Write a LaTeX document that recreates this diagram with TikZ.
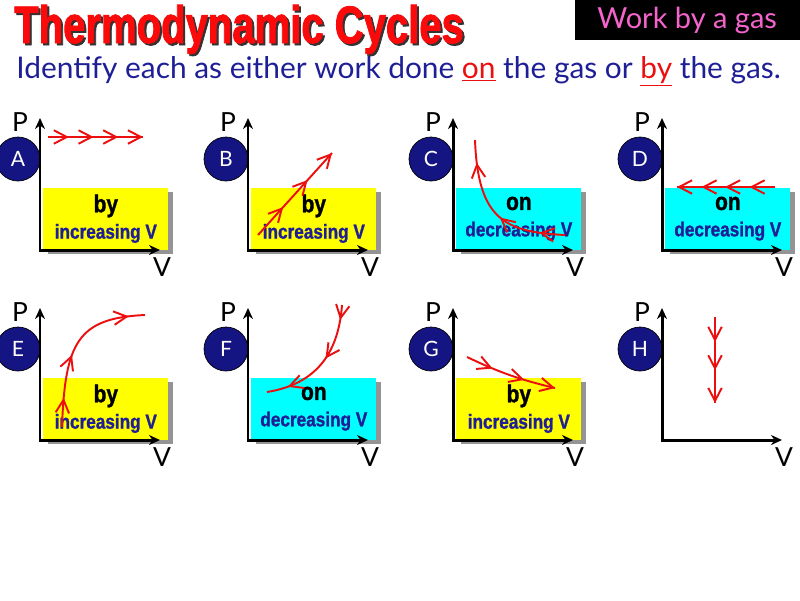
\documentclass[tikz,border=0pt]{standalone}
\usepackage{fontspec}
\setmainfont{Lato}
\newfontfamily\titlefont[FakeStretch=0.76,BoldFeatures={FakeBold=1.5}]{Liberation Sans}
\newfontfamily\condfont[FakeStretch=0.85,BoldFeatures={FakeBold=1.2}]{Liberation Sans}
\usetikzlibrary{positioning, arrows.meta, decorations.markings, shadows}
\definecolor{titlered}{RGB}{250,10,10}
\definecolor{inkblue}{RGB}{30,30,150}
\definecolor{tagblue}{RGB}{20,20,130}
\definecolor{boxyellow}{RGB}{255,255,0}
\definecolor{boxcyan}{RGB}{0,255,255}
\definecolor{flowred}{RGB}{235,15,15}
\definecolor{gaspink}{RGB}{245,100,205}
\tikzset{
  headline/.style={anchor=base west,font={\titlefont\bfseries\fontsize{30}{30}\selectfont}},
  axis/.style={line width=1.7pt,{Stealth[length=2.2mm,width=2mm]}-{Stealth[length=2.2mm,width=2mm]}},
  axlabel/.style={font=\fontsize{15}{15}\selectfont,inner sep=0pt},
  tag/.style={circle,draw=black,fill=tagblue,text=white,minimum size=8.8mm,inner sep=0pt,
    font=\fontsize{12}{12}\selectfont},
  workbox/.style={anchor=south west,minimum width=2.5cm,minimum height=1.24cm,inner sep=0pt,
    align=center,drop shadow={shadow xshift=2.5pt,shadow yshift=-2.5pt,fill=black!70,opacity=.6}},
  flow/.style={flowred,line width=1.1pt},
  chev/.style={postaction={decorate,decoration={markings,mark=at position #1 with
    {\arrow{Straight Barb[length=2.6mm,width=2.7mm,line width=1.1pt]}}}}},
}
\newcommand{\bigword}[1]{{\condfont\bfseries\fontsize{14}{14}\selectfont #1}}
\newcommand{\smallword}[1]{{\condfont\bfseries\fontsize{11.5}{11.5}\selectfont\color{inkblue}#1}}

\begin{document}
\begin{tikzpicture}[x=0.02cm,y=-0.02cm]
  \useasboundingbox (0,0) rectangle (800,600);
  % heading
  \node[headline,text=black!80] (titleshade) at (10,45) {Thermodynamic Cycles};
  \node[headline,text=titlered] (title) at (8,43) {Thermodynamic Cycles};
  \node[fill=black,text=gaspink,anchor=north east,minimum width=4.5cm,minimum height=0.8cm,
    font=\fontsize{16.5}{16.5}\selectfont] (badge) at (800,0) {Work by a gas};
  \node[anchor=base west,text=inkblue,inner sep=0pt,font=\fontsize{17}{17}\selectfont] (prompt) at (16,78)
    {Identify each as either work done \textcolor{flowred}{\underline{on}} the gas or
     \textcolor{flowred}{\underline{by}} the gas.};
  % answer boxes
  \foreach \ox/\oy/\l/\fillc/\who/\how in {40/250/A/boxyellow/by/increasing,
      248/250/B/boxyellow/by/increasing, 453/250/C/boxcyan/on/decreasing,
      662/250/D/boxcyan/on/decreasing, 40/440/E/boxyellow/by/increasing,
      248/440/F/boxcyan/on/decreasing, 453/440/G/boxyellow/by/increasing}
    \node[workbox,fill=\fillc] (box\l) at (\ox+3,\oy) {\bigword{\who}\\[3pt]\smallword{\how\ V}};
  % axes and tags
  \foreach \ox/\oy/\l in {40/250/A,248/250/B,453/250/C,662/250/D,
      40/440/E,248/440/F,453/440/G,662/440/H}{
    \node[tag] (tag\l) at (\ox-22,\oy-91) {\l};
    \draw[axis] (\ox,\oy-132) -- (\ox,\oy) -- (\ox+120,\oy);
    \node[axlabel] (p\l) at (\ox-20,\oy-128) {P};
    \node[axlabel] (v\l) at (\ox+122,\oy+17) {V};
  }
  % processes
  \coordinate (a0) at (48,137);   \coordinate (a1) at (143,137);
  \coordinate (b0) at (258,235);  \coordinate (b1) at (332,153);
  \coordinate (c0) at (565,235);  \coordinate (c1) at (475,140);
  \coordinate (d0) at (775,187);  \coordinate (d1) at (677,187);
  \coordinate (e0) at (62,427);   \coordinate (e1) at (145,315);
  \coordinate (f0) at (342,305);  \coordinate (f1) at (267,392);
  \coordinate (g0) at (467,357);  \coordinate (g1) at (555,388);
  \coordinate (h0) at (715,317);  \coordinate (h1) at (715,403);
  \draw[flow,chev=0.22,chev=0.48,chev=0.74,chev=1] (a0) -- (a1);
  \draw[flow,chev=0.34,chev=0.67,chev=1] (b0) -- (b1);
  \draw[flow,chev=0.17,chev=0.45,chev=0.85] (c0) .. controls (505,232) and (478,220) .. (c1);
  \draw[flow,chev=0.26,chev=0.51,chev=0.75,chev=1] (d0) -- (d1);
  \draw[flow,chev=0.18,chev=0.45,chev=0.9] (e0) .. controls (65,342) and (78,318) .. (e1);
  \draw[flow,chev=0.12,chev=0.45,chev=0.83] (f0) .. controls (338,360) and (310,385) .. (f1);
  \draw[flow,chev=0.3,chev=0.66,chev=1] (g0) to[bend right=6] (g1);
  \draw[flow,chev=0.29,chev=0.62,chev=1] (h0) -- (h1);
\end{tikzpicture}
\end{document}
